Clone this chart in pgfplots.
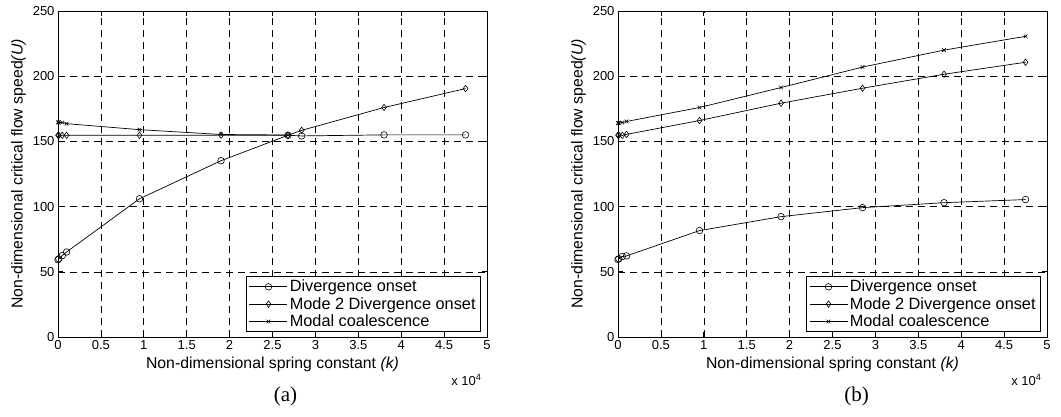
\documentclass[border=0pt]{standalone}
\usepackage{fontspec}
\setmainfont{Liberation Sans}
\newfontfamily\capfont{Liberation Serif}
\usepackage{pgfplots}
\pgfplotsset{compat=1.18}
\pgfplotsset{mystyle/.style={
  width=429pt, height=326pt, scale only axis,
  xmin=0, xmax=5, ymin=0, ymax=250,
  xtick={0,0.5,...,5}, ytick={0,50,...,250},
  xticklabels={0,0.5,1,1.5,2,2.5,3,3.5,4,4.5,5},
  /pgf/number format/assume math mode=true,
  grid=major,
  major grid style={black, line width=0.6pt, dash pattern=on 7pt off 5pt},
  tick align=inside, major tick length=5pt,
  tick style={black, line width=0.7pt},
  axis line style={black, line width=0.9pt},
  tick label style={font=\fontsize{13}{13}\selectfont},
  label style={font=\fontsize{15.8}{15.8}\selectfont},
  ylabel={Non-dimensional critical flow speed\textit{(U)}},
  xlabel={Non-dimensional spring constant \textit{(k)}},
  xlabel style={yshift=0pt},
  legend style={at={(1,0)}, anchor=south east, xshift=-6pt, yshift=5pt,
    font=\fontsize{16.3}{16.3}\selectfont, draw=black, line width=0.8pt,
    inner xsep=3pt, inner ysep=1.5pt, row sep=0pt},
  legend cell align=left,
  legend image code/.code={\draw[mark repeat=2,mark phase=2] plot coordinates {(0pt,0pt)(19pt,0pt)(38pt,0pt)};},
  every axis plot/.append style={black, line width=0.7pt},
}}
\begin{document}
\begin{tikzpicture}[x=1pt,y=1pt]
\path[use as bounding box] (0,0) rectangle (1061,416);
\begin{axis}[mystyle, name=A, at={(58pt,79pt)}, anchor=south west]
\addplot[mark=o, mark size=3.3pt, mark options={solid, line width=0.6pt}] coordinates {
(0,59.3)(0.01,60)(0.05,62.4)(0.1,65.2)(0.95,106)(1.9,135.2)(2.68,154.7)(2.84,154.2)(3.8,155)(4.75,155)};
\addplot[mark=diamond, mark size=3.2pt, mark options={solid, line width=0.6pt}] coordinates {
(0,154.7)(0.01,154.7)(0.05,154.7)(0.1,154.7)(0.95,154.7)(1.9,154.8)(2.68,154.7)(2.84,158.5)(3.8,176)(4.75,190.5)};
\addplot[mark=x, mark size=2.6pt, mark options={solid, line width=0.6pt}] coordinates {
(0,164.6)(0.01,164.6)(0.05,164.5)(0.1,163.6)(0.95,159)(1.9,155.3)(2.68,154.9)};
\legend{Divergence onset, Mode 2 Divergence onset, Modal coalescence}
\end{axis}
\node[anchor=east, font=\fontsize{13}{13}\selectfont] at ([xshift=-2pt, yshift=-43pt]A.south east) {x 10\textsuperscript{4}};
\node[font=\capfont\fontsize{21}{21}\selectfont] at ([xshift=13pt, yshift=-59pt]A.south) {(a)};
\begin{axis}[mystyle, name=B, at={(618pt,79pt)}, anchor=south west]
\addplot[mark=o, mark size=3.3pt, mark options={solid, line width=0.6pt}] coordinates {
(0,59.5)(0.01,60)(0.05,61.7)(0.1,62.2)(0.95,81.6)(1.9,92.3)(2.85,99.2)(3.8,103)(4.75,105.4)};
\addplot[mark=diamond, mark size=3.2pt, mark options={solid, line width=0.6pt}] coordinates {
(0,154.8)(0.01,154.8)(0.05,154.6)(0.1,155.4)(0.95,166)(1.9,179.3)(2.85,190.8)(3.8,201.5)(4.75,210.7)};
\addplot[mark=x, mark size=2.6pt, mark options={solid, line width=0.6pt}] coordinates {
(0,164)(0.01,164)(0.05,164.5)(0.1,165.3)(0.95,176)(1.9,191.3)(2.85,207)(3.8,220)(4.75,230.6)};
\legend{Divergence onset, Mode 2 Divergence onset, Modal coalescence}
\end{axis}
\node[anchor=east, font=\fontsize{13}{13}\selectfont] at ([xshift=-2pt, yshift=-43pt]B.south east) {x 10\textsuperscript{4}};
\node[font=\capfont\fontsize{21}{21}\selectfont] at ([xshift=24pt, yshift=-59pt]B.south) {(b)};
\end{tikzpicture}
\end{document}
